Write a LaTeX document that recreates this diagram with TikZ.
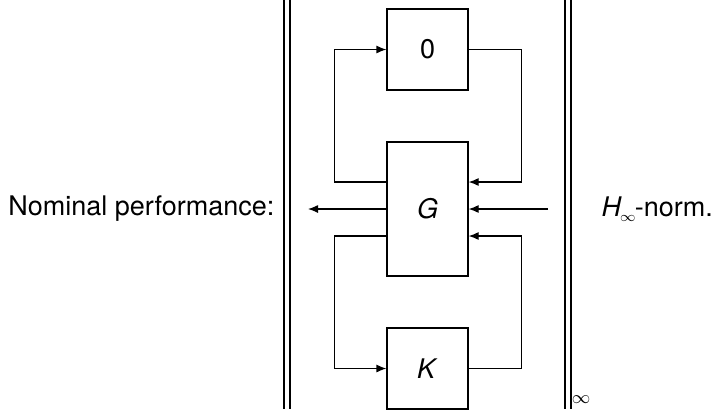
\documentclass[tikz,border=0pt]{standalone}
\usepackage{fontspec}
\setmainfont{TeX Gyre Heros}
\usetikzlibrary{arrows.meta}
\begin{document}
\begin{tikzpicture}[x=0.5pt, y=-0.5pt, >={Latex[length=5pt,width=4pt]}, line width=0.6pt,
    box/.style={draw, minimum width=40.5pt, minimum height=40.5pt, inner sep=0pt},
    font=\fontsize{13.5}{16}\selectfont]
    \useasboundingbox (0,0) rectangle (715,409);
    % norm bars
    \draw (284,0) -- (284,409); \draw (290,0) -- (290,409);
    \draw (565,0) -- (565,409); \draw (571,0) -- (571,409);
    \node at (581,400) {$\scriptstyle\infty$};
    % blocks
    \node[box] (zero) at (427.5,49.5) {0};
    \node[box, minimum height=67pt] (plant) at (427.5,209) {\textit{G}};
    \node[box] (ctrl) at (427.5,368.5) {\textit{K}};
    \coordinate (zout) at (308,209);
    \coordinate (win) at (548,209);
    % upper loop
    \draw[->] (zero.east) -- ++(26.5pt,0) |- ([yshift=13.5pt]plant.east);
    \draw[->] ([yshift=13.5pt]plant.west) -- ++(-26pt,0) |- (zero.west);
    % outer signals
    \draw[->] (plant.west) -- (zout);
    \draw[->] (win) -- (plant.east);
    % lower loop
    \draw[->] ([yshift=-13.5pt]plant.west) -- ++(-26pt,0) |- (ctrl.west);
    \draw[->] (ctrl.east) -- ++(26.5pt,0) |- ([yshift=-13.5pt]plant.east);
    % labels
    \node[anchor=east, inner sep=0pt] (title) at (275,209) {Nominal performance:};
    \node[anchor=west, inner sep=0pt] (norm) at (601,209)
        {\textit{H}\kern-1pt\raisebox{-2.5pt}{$\scriptscriptstyle\infty$}\kern-0.5pt-norm.};
\end{tikzpicture}
\end{document}
